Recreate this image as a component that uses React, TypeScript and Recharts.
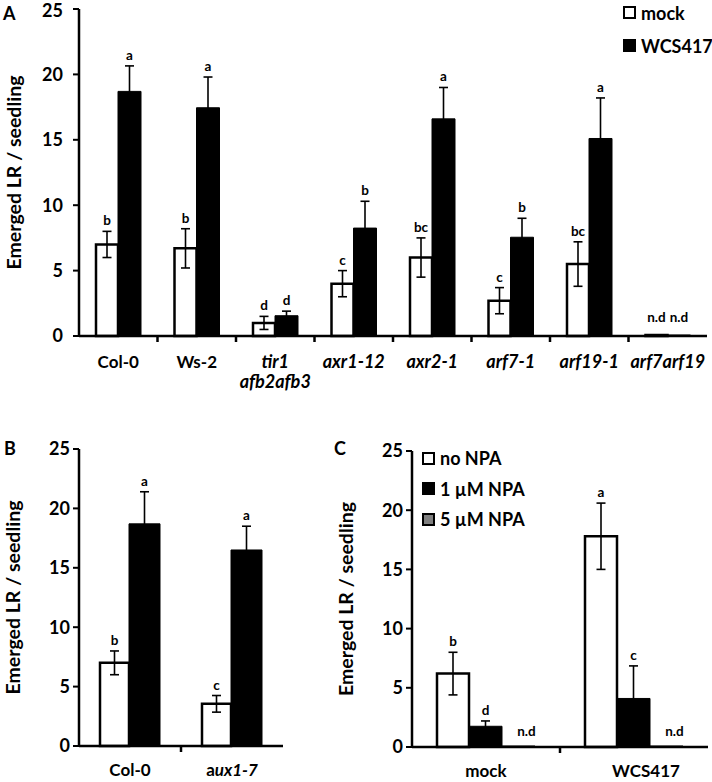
import React from 'react';
import { BarChart, Bar, XAxis, YAxis, ErrorBar, LabelList, Legend } from 'recharts';

// ---------- Panel A data ----------
const categoriesA = ['Col-0', 'Ws-2', 'tir1\nafb2afb3', 'axr1-12', 'axr2-1', 'arf7-1', 'arf19-1', 'arf7arf19'];
const italicA = [false, false, true, true, true, true, true, true];
const mockA = [7.0, 6.7, 1.0, 4.0, 6.0, 2.7, 5.5, 0];
const mockErrA = [1.0, 1.5, 0.5, 1.0, 1.5, 1.0, 1.7, 0];
const wcsA = [18.7, 17.45, 1.55, 8.25, 16.6, 7.55, 15.1, 0];
const wcsErrA = [1.95, 2.35, 0.35, 2.05, 2.4, 1.45, 3.1, 0];
const mockLettersA = ['b', 'b', 'd', 'c', 'bc', 'c', 'bc', 'n.d'];
const wcsLettersA = ['a', 'a', 'd', 'b', 'a', 'b', 'a', 'n.d'];

// ---------- Panel B data ----------
const categoriesB = ['Col-0', 'aux1-7'];
const labelPartsB = [[['Col-0', false]], [['a', false], ['ux1-7', true]]];
const mockB = [7.0, 3.55];
const mockErrB = [1.0, 0.7];
const wcsB = [18.7, 16.5];
const wcsErrB = [2.7, 2.0];
const mockLettersB = ['b', 'c'];
const wcsLettersB = ['a', 'a'];

// ---------- Panel C data ----------
const categoriesC = ['mock', 'WCS417'];
const noNpaC = [6.2, 17.8];
const noNpaErrC = [1.8, 2.8];
const npa1C = [1.75, 4.1];
const npa1ErrC = [0.45, 2.75];
const npa5C = [0, 0];
const npa5ErrC = [0, 0];
const noNpaLettersC = ['b', 'a'];
const npa1LettersC = ['d', 'c'];
const npa5LettersC = ['n.d', 'n.d'];

const yTicks = [0, 5, 10, 15, 20, 25];

const dataA = categoriesA.map((c, i) => ({ name: c, mock: mockA[i], mockErr: mockErrA[i], wcs: wcsA[i], wcsErr: wcsErrA[i] }));
const dataB = categoriesB.map((c, i) => ({ name: c, mock: mockB[i], mockErr: mockErrB[i], wcs: wcsB[i], wcsErr: wcsErrB[i] }));
const dataC = categoriesC.map((c, i) => ({
  name: c, n0: noNpaC[i], n0Err: noNpaErrC[i], n1: npa1C[i], n1Err: npa1ErrC[i], n5: npa5C[i], n5Err: npa5ErrC[i],
}));

const FONT = 'Lato, "Open Sans", sans-serif';

const makeLetterLabel = (letters: string[], errs: number[], zeroOffset: number, zeroDx = 0) => (props: any) => {
  const { x, y, width, height, value, index } = props;
  const v = Number(value);
  let ty: number;
  let dx = 0;
  if (v > 0) {
    const ppu = height / v;
    ty = y - errs[index] * ppu - 6;
  } else {
    ty = y + height - zeroOffset;
    dx = zeroDx;
  }
  return (
    <text x={x + width / 2 + dx} y={ty} textAnchor="middle" fontSize={13.5} fontWeight={700} fontFamily={FONT} fill="#000">
      {letters[index]}
    </text>
  );
};

const YTitle = (cxOffset: number) => (props: any) => {
  const vb = props.viewBox || { x: 0, y: 0, width: 0, height: 0 };
  const cx = vb.x + cxOffset;
  const cy = vb.y + vb.height / 2;
  return (
    <text x={cx} y={cy} transform={`rotate(-90, ${cx}, ${cy})`} textAnchor="middle" dominantBaseline="central"
      fontSize={19.5} fontWeight={700} fontFamily={FONT} fill="#000">
      Emerged LR / seedling
    </text>
  );
};

const BoundaryTick = (renderText: (props: any) => React.ReactNode) => (props: any) => {
  const { x, y, index, visibleTicksCount, width } = props;
  const band = width / visibleTicksCount;
  return (
    <g>
      {index < visibleTicksCount - 1 && (
        <line x1={x + band / 2} x2={x + band / 2} y1={y} y2={y + 6} stroke="#000" strokeWidth={2.5} />
      )}
      {renderText(props)}
    </g>
  );
};

const textA = (props: any) => {
  const { x, y, index } = props;
  const lines = categoriesA[index].split('\n');
  return (
    <text x={x} y={y + 32} textAnchor="middle" fontSize={italicA[index] ? 18 : 17} fontWeight={700} fontFamily={FONT}
      fontStyle={italicA[index] ? 'italic' : 'normal'} fill="#000">
      {lines.map((l, i) => (
        <tspan key={i} x={x} dy={i === 0 ? 0 : 20}>{l}</tspan>
      ))}
    </text>
  );
};

const textB = (props: any) => {
  const { x, y, index } = props;
  const parts = labelPartsB[index] as [string, boolean][];
  return (
    <text x={x} y={y + 30} textAnchor="middle" fontSize={17} fontWeight={700} fontFamily={FONT} fill="#000">
      {parts.map((p, i) => (
        <tspan key={i} fontStyle={p[1] ? 'italic' : 'normal'}>{p[0]}</tspan>
      ))}
    </text>
  );
};

const textC = (props: any) => {
  const { x, y, index } = props;
  return (
    <text x={x + (index === 1 ? 12 : 0)} y={y + 30} textAnchor="middle" fontSize={17} fontWeight={700} fontFamily={FONT} fill="#000">
      {categoriesC[index]}
    </text>
  );
};

const LegendBox = (items: { label: string; fill: string }[], rowH: number) => () => (
  <div style={{ fontFamily: FONT, fontWeight: 700, fontSize: 18, color: '#000' }}>
    {items.map((it) => (
      <div key={it.label} style={{ display: 'flex', alignItems: 'center', height: rowH, whiteSpace: 'nowrap' }}>
        <span style={{ display: 'inline-block', width: 9, height: 9, border: '2px solid #000', background: it.fill, marginRight: 5 }} />
        <span>{it.label}</span>
      </div>
    ))}
  </div>
);

const panelLetter = (t: string, left: number, top: number) => (
  <div style={{ position: 'absolute', left, top, fontFamily: FONT, fontWeight: 700, fontSize: 18, color: '#000', lineHeight: '20px' }}>{t}</div>
);

const axisStroke = { stroke: '#000', strokeWidth: 2.5 };
const yTickStyle = { fontSize: 18, fontWeight: 700, fontFamily: FONT, fill: '#000' };

export default function App() {
  return (
    <div style={{ position: 'absolute', left: 0, top: 0, width: 712, height: 782, background: '#fff' }}>
      {panelLetter('A', 3, 3)}
      {panelLetter('B', 4, 438)}
      {panelLetter('C', 334, 438)}

      {/* Panel A */}
      <div style={{ position: 'absolute', left: 0, top: 0 }}>
        <BarChart width={712} height={400} data={dataA} margin={{ top: 9, right: 5, bottom: 34, left: 0 }} barGap={0} barCategoryGap="20%">
          <XAxis dataKey="name" height={30} axisLine={axisStroke} tickLine={false} tickSize={0} tickMargin={0} interval={0}
            tick={BoundaryTick(textA)} />
          <YAxis width={79} domain={[0, 25]} ticks={yTicks} axisLine={axisStroke} tickLine={{ stroke: '#000', strokeWidth: 2 }}
            tickSize={6} tickMargin={10} tick={yTickStyle} label={{ content: YTitle(13) }} />
          <Legend verticalAlign="middle" layout="horizontal" wrapperStyle={{ left: 623, top: -4, width: 90, height: 70 }}
            content={LegendBox([{ label: 'mock', fill: '#fff' }, { label: 'WCS417', fill: '#000' }], 33)} />
          <Bar dataKey="mock" name="mock" fill="#fff" stroke="#000" strokeWidth={2.5} barSize={22} minPointSize={1} isAnimationActive={false}>
            <ErrorBar dataKey="mockErr" width={4.5} stroke="#000" strokeWidth={1.6} direction="y" />
            <LabelList dataKey="mock" content={makeLetterLabel(mockLettersA, mockErrA, 14)} />
          </Bar>
          <Bar dataKey="wcs" name="WCS417" fill="#000" stroke="#000" strokeWidth={1} barSize={23} minPointSize={1} isAnimationActive={false}>
            <ErrorBar dataKey="wcsErr" width={4.5} stroke="#000" strokeWidth={1.6} direction="y" />
            <LabelList dataKey="wcs" content={makeLetterLabel(wcsLettersA, wcsErrA, 14)} />
          </Bar>
        </BarChart>
      </div>

      {/* Panel B */}
      <div style={{ position: 'absolute', left: 0, top: 420 }}>
        <BarChart width={290} height={362} data={dataB} margin={{ top: 29, right: 7, bottom: 6, left: 0 }} barGap={0} barCategoryGap="20%">
          <XAxis dataKey="name" height={30} axisLine={axisStroke} tickLine={false} tickSize={0} tickMargin={0} interval={0}
            tick={BoundaryTick(textB)} />
          <YAxis width={79} domain={[0, 25]} ticks={yTicks} axisLine={axisStroke} tickLine={{ stroke: '#000', strokeWidth: 2 }}
            tickSize={6} tickMargin={3} tick={yTickStyle} label={{ content: YTitle(12) }} />
          <Bar dataKey="mock" fill="#fff" stroke="#000" strokeWidth={2.5} barSize={29} isAnimationActive={false}>
            <ErrorBar dataKey="mockErr" width={4.5} stroke="#000" strokeWidth={1.6} direction="y" />
            <LabelList dataKey="mock" content={makeLetterLabel(mockLettersB, mockErrB, 12)} />
          </Bar>
          <Bar dataKey="wcs" fill="#000" stroke="#000" strokeWidth={1} barSize={31} isAnimationActive={false}>
            <ErrorBar dataKey="wcsErr" width={4.5} stroke="#000" strokeWidth={1.6} direction="y" />
            <LabelList dataKey="wcs" content={makeLetterLabel(wcsLettersB, wcsErrB, 12)} />
          </Bar>
        </BarChart>
      </div>

      {/* Panel C */}
      <div style={{ position: 'absolute', left: 320, top: 420 }}>
        <BarChart width={392} height={362} data={dataC} margin={{ top: 31, right: 4, bottom: 5, left: 0 }} barGap={0} barCategoryGap="16%">
          <XAxis dataKey="name" height={30} axisLine={axisStroke} tickLine={false} tickSize={0} tickMargin={0} interval={0}
            tick={BoundaryTick(textC)} />
          <YAxis width={92} domain={[0, 25]} ticks={yTicks} axisLine={axisStroke} tickLine={{ stroke: '#000', strokeWidth: 2 }}
            tickSize={6} tickMargin={3} tick={yTickStyle} label={{ content: YTitle(25) }} />
          <Legend verticalAlign="middle" layout="horizontal" wrapperStyle={{ left: 102, top: 23, width: 120, height: 95 }}
            content={LegendBox([
              { label: 'no NPA', fill: '#fff' },
              { label: '1 µM NPA', fill: '#000' },
              { label: '5 µM NPA', fill: '#808080' },
            ], 30.5)} />
          <Bar dataKey="n0" fill="#fff" stroke="#000" strokeWidth={2.5} barSize={32} isAnimationActive={false}>
            <ErrorBar dataKey="n0Err" width={4.5} stroke="#000" strokeWidth={1.6} direction="y" />
            <LabelList dataKey="n0" content={makeLetterLabel(noNpaLettersC, noNpaErrC, 11)} />
          </Bar>
          <Bar dataKey="n1" fill="#000" stroke="#000" strokeWidth={1} barSize={33} isAnimationActive={false}>
            <ErrorBar dataKey="n1Err" width={4.5} stroke="#000" strokeWidth={1.6} direction="y" />
            <LabelList dataKey="n1" content={makeLetterLabel(npa1LettersC, npa1ErrC, 11)} />
          </Bar>
          <Bar dataKey="n5" fill="#808080" stroke="#000" strokeWidth={1} barSize={33} minPointSize={1} isAnimationActive={false}>
            <ErrorBar dataKey="n5Err" width={4.5} stroke="#000" strokeWidth={1.6} direction="y" />
            <LabelList dataKey="n5" content={makeLetterLabel(npa5LettersC, npa5ErrC, 11, 8)} />
          </Bar>
        </BarChart>
      </div>
    </div>
  );
}
